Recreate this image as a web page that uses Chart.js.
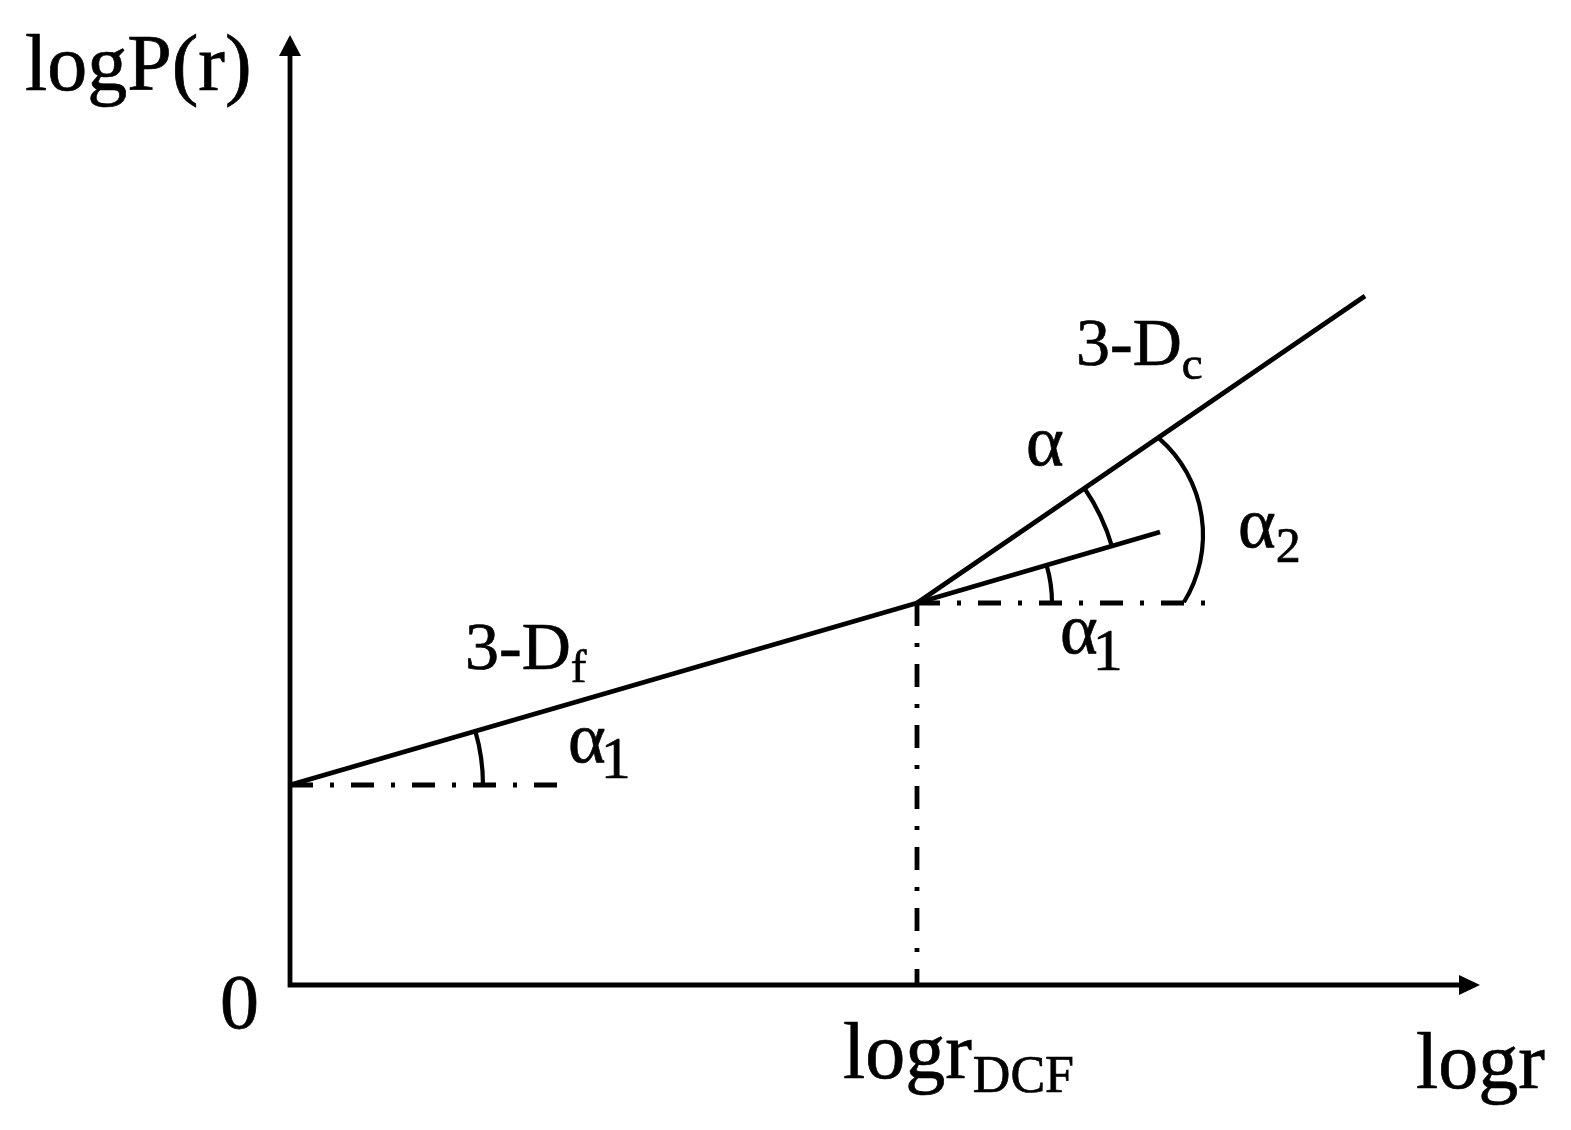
<!DOCTYPE html>
<html>
<head>
<meta charset="utf-8">
<script src="https://cdn.jsdelivr.net/npm/chart.js@4.4.1/dist/chart.umd.min.js"></script>
<style>
  html, body { margin: 0; padding: 0; background: #ffffff; }
  canvas { display: block; }
</style>
</head>
<body>
<canvas id="c" width="1571" height="1130"></canvas>
<script>
// ---- Data (schematic values; logr / logP(r) units) ----
const breakLogr = 6.27;          // logr_DCF
const breakLogP = 3.82;
const fractalStart = [0, 2.0];   // 3-Df line start on the logP axis
const coarseEnd = [10.75, 6.89];  // 3-Dc line end
const extensionEnd = [8.70, 4.53];// continuation of 3-Df beyond the break
const refLine1End = 2.83;        // dash-dot horizontal from the axis
const refLine2End = 9.27;        // dash-dot horizontal from the break
const xMax = 11.9;
const yMax = 9.5;

const black = '#000000';
const dashDot = [23, 17, 4, 17];

function seg(a, b) { return [{x: a[0], y: a[1]}, {x: b[0], y: b[1]}]; }

const datasets = [
  { label: '3-Df', data: seg(fractalStart, [breakLogr, breakLogP]) },
  { label: '3-Dc', data: seg([breakLogr, breakLogP], coarseEnd) },
  { label: 'ext', data: seg([breakLogr, breakLogP], extensionEnd) },
  { label: 'h1', data: seg(fractalStart, [refLine1End, fractalStart[1]]), borderDash: dashDot },
  { label: 'h2', data: seg([breakLogr, breakLogP], [refLine2End, breakLogP]), borderDash: dashDot },
  { label: 'v', data: seg([breakLogr, breakLogP], [breakLogr, 0]), borderDash: dashDot }
].map(d => Object.assign({
  borderColor: black, borderWidth: 4.8, pointRadius: 0, fill: false,
  tension: 0, borderCapStyle: 'butt', borderJoinStyle: 'miter'
}, d));

const FONT = '"Liberation Serif", "Times New Roman", serif';

const diagramPlugin = {
  id: 'diagram',
  beforeDatasetsDraw(chart) {
    const {ctx, scales: {x, y}} = chart;
    const X = v => x.getPixelForValue(v);
    const Y = v => y.getPixelForValue(v);
    ctx.save();
    ctx.strokeStyle = black;
    ctx.fillStyle = black;
    ctx.lineWidth = 4.8;
    ctx.lineCap = 'butt';
    // axes
    const ox = X(0), oy = Y(0);
    ctx.beginPath();
    ctx.moveTo(ox, oy + 2.4);
    ctx.lineTo(ox, Y(yMax) + 18);
    ctx.moveTo(ox - 2.4, oy);
    ctx.lineTo(X(xMax) - 18, oy);
    ctx.stroke();
    // arrow heads
    ctx.beginPath();
    ctx.moveTo(ox, Y(yMax));
    ctx.lineTo(ox - 11, Y(yMax) + 21);
    ctx.lineTo(ox + 11, Y(yMax) + 21);
    ctx.closePath();
    ctx.fill();
    ctx.beginPath();
    ctx.moveTo(X(xMax), oy);
    ctx.lineTo(X(xMax) - 21, oy - 10);
    ctx.lineTo(X(xMax) - 21, oy + 10);
    ctx.closePath();
    ctx.fill();
    ctx.restore();
  },
  afterDatasetsDraw(chart) {
    const {ctx, scales: {x, y}} = chart;
    const X = v => x.getPixelForValue(v);
    const Y = v => y.getPixelForValue(v);
    const R = r => X(r) - X(0);
    const slope1 = (breakLogP - fractalStart[1]) / (breakLogr - fractalStart[0]);
    const slope2 = (coarseEnd[1] - breakLogP) / (coarseEnd[0] - breakLogr);
    const t1 = Math.atan(slope1), t2 = Math.atan(slope2);
    ctx.save();
    ctx.strokeStyle = black;
    ctx.lineWidth = 4.2;
    ctx.lineCap = 'butt';
    // angle arcs
    const arcs = [
      [fractalStart[0], fractalStart[1], 1.93, -t1, 0],
      [breakLogr, breakLogP, 1.35, -t1, 0],
      [breakLogr, breakLogP, 2.03, -t2, -t1],
      [7.85, 4.50, 1.28, -48.8 * Math.PI / 180, 31.7 * Math.PI / 180]
    ];
    arcs.forEach(a => {
      ctx.beginPath();
      ctx.arc(X(a[0]), Y(a[1]), R(a[2]), a[3], a[4]);
      ctx.stroke();
    });
    // labels
    ctx.fillStyle = black;
    ctx.textBaseline = 'alphabetic';
    ctx.textAlign = 'left';
    ctx.lineWidth = 0.7;
    const labels = [
      {x: -2.65, y: 8.95, t: 'logP(r)', s: 80},
      {x: -0.70, y: -0.43, t: '0', s: 78},
      {x: 11.26, y: -1.03, t: 'logr', s: 80},
      {x: 5.53, y: -0.93, t: 'logr', s: 80, sub: 'DCF', ss: 52, sdy: 14, sdx: 1},
      {x: 7.86, y: 6.20, t: '3-D', s: 68, sub: 'c', ss: 47, sdy: 14, sdx: 0},
      {x: 1.75, y: 3.16, t: '3-D', s: 68, sub: 'f', ss: 47, sdy: 13, sdx: 0},
      {x: 7.36, y: 5.20, t: 'α', s: 72},
      {x: 9.48, y: 4.38, t: 'α', s: 72, sub: '2', ss: 50, sdy: 15, sdx: 0},
      {x: 7.70, y: 3.32, t: 'α', s: 72, sub: '1', ss: 60, sdy: 17, sdx: -5},
      {x: 2.78, y: 2.23, t: 'α', s: 72, sub: '1', ss: 60, sdy: 16, sdx: -5}
    ];
    labels.forEach(l => {
      const px = X(l.x), py = Y(l.y);
      ctx.font = l.s + 'px ' + FONT;
      ctx.fillText(l.t, px, py);
      ctx.strokeText(l.t, px, py);
      if (l.sub) {
        const w = ctx.measureText(l.t).width;
        ctx.font = l.ss + 'px ' + FONT;
        ctx.fillText(l.sub, px + w + l.sdx, py + l.sdy);
        ctx.strokeText(l.sub, px + w + l.sdx, py + l.sdy);
      }
    });
    ctx.restore();
  }
};

new Chart(document.getElementById('c'), {
  type: 'line',
  data: { datasets },
  options: {
    responsive: false,
    animation: false,
    devicePixelRatio: 1,
    layout: { padding: { left: 290, right: 91, top: 35, bottom: 145 } },
    plugins: { legend: { display: false }, tooltip: { enabled: false }, title: { display: false } },
    elements: { line: { tension: 0 } },
    scales: {
      x: { type: 'linear', min: 0, max: xMax, display: false },
      y: { type: 'linear', min: 0, max: yMax, display: false }
    }
  },
  plugins: [diagramPlugin]
});
</script>
</body>
</html>
